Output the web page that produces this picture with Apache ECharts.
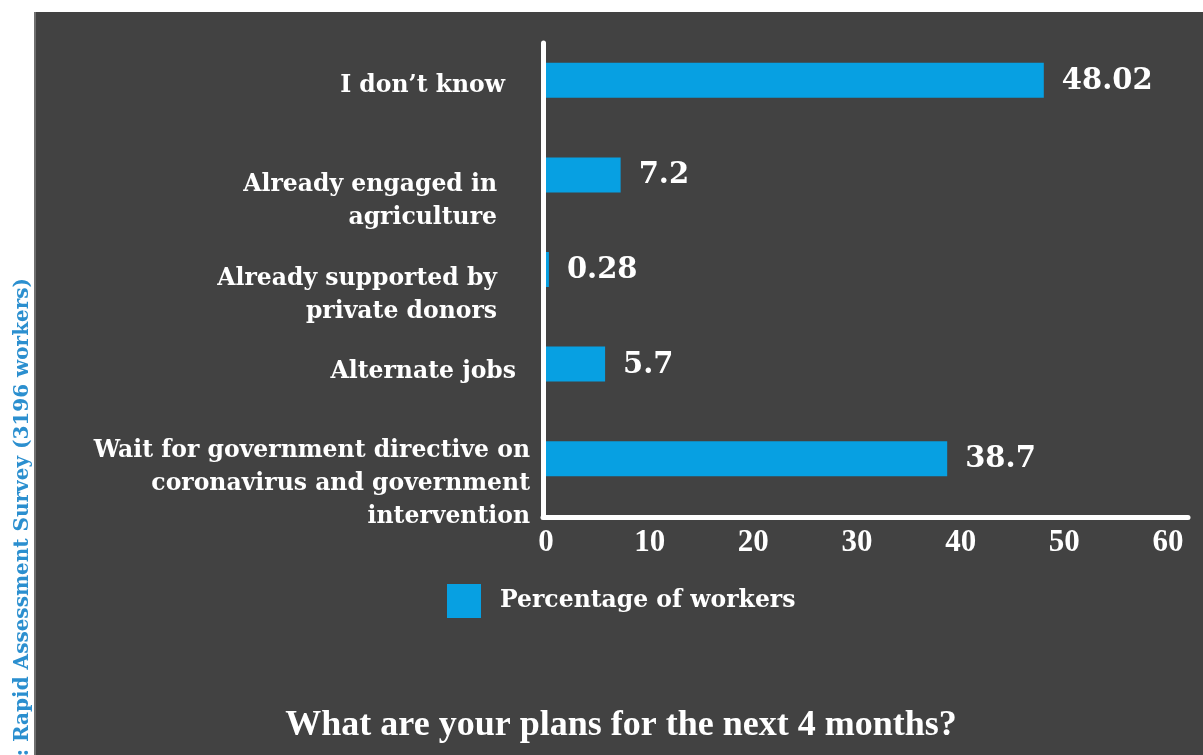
<!DOCTYPE html>
<html>
<head>
<meta charset="utf-8">
<script src="https://cdn.jsdelivr.net/npm/echarts@6/dist/echarts.min.js"></script>
<style>
html,body{margin:0;padding:0;background:#ffffff;}
#chart{width:1203px;height:755px;}
</style>
</head>
<body>
<div id="chart"></div>
<script>
const categories = [
  'I don’t know',
  'Already engaged in\nagriculture',
  'Already supported by\nprivate donors',
  'Alternate jobs',
  'Wait for government directive on\ncoronavirus and government\nintervention'
];
const values = [48.02, 7.2, 0.28, 5.7, 38.7];
const xMin = 0, xMax = 60, xStep = 10;
const seriesName = 'Percentage of workers';
const titleText = 'What are your plans for the next 4 months?';
const sourceText = 'Source: Rapid Assessment Survey (3196 workers)';

const SERIF = '"Liberation Serif", "DejaVu Serif", serif';
const DJV = '"DejaVu Serif", serif';
// label nudges: [spacer height (shifts down by half), shift left px]
const labelNudge = [[12, 25], [52, 33], [52, 33], [16, 14], [50, 0]];

const richStyles = {};
labelNudge.forEach((n, i) => { richStyles['g' + i] = {lineHeight: n[0], fontSize: 1, height: n[0]}; });

const chart = echarts.init(document.getElementById('chart'), null, {renderer: 'canvas'});
const option = {
  backgroundColor: 'transparent',
  animation: false,
  graphic: [
    {type: 'rect', z: -10, silent: true,
     shape: {x: 35, y: 12, width: 1168, height: 743},
     style: {fill: '#424242'}},
    {type: 'rect', z: -9, silent: true,
     shape: {x: 34, y: 12, width: 2, height: 743},
     style: {fill: '#707070'}},
    {type: 'text', x: 23, y: 278, rotation: Math.PI / 2, silent: true,
     style: {text: sourceText, fill: '#2b8fcf', font: 'bold 20px ' + DJV,
             align: 'right', verticalAlign: 'middle'}},
    {type: 'text', x: 621, y: 726, silent: true,
     style: {text: titleText, fill: '#ffffff', font: 'bold 36px ' + SERIF,
             align: 'center', verticalAlign: 'middle'}}
  ],
  legend: {
    left: 442, top: 579,
    itemWidth: 34, itemHeight: 34, icon: 'rect',
    textStyle: {color: '#ffffff', fontFamily: DJV, fontWeight: 'bold', fontSize: 23.5, padding: [0, 0, 0, 14]},
    data: [seriesName]
  },
  grid: [
    {left: 546, top: 33, width: 622, height: 473, containLabel: false},
    {left: 543, top: 43, width: 645, height: 474, containLabel: false}
  ],
  xAxis: [
    {gridIndex: 0, type: 'value', min: xMin, max: xMax, interval: xStep,
     axisLine: {show: false}, axisTick: {show: false}, splitLine: {show: false},
     axisLabel: {color: '#ffffff', fontFamily: SERIF, fontWeight: 'bold', fontSize: 31, margin: 21}},
    {gridIndex: 1, type: 'value', min: 0, max: 1,
     axisLine: {show: true, onZero: false, lineStyle: {color: '#ffffff', width: 5}},
     axisTick: {show: false}, axisLabel: {show: false}, splitLine: {show: false}}
  ],
  yAxis: [
    {gridIndex: 0, type: 'category', inverse: true,
     data: categories.map((c, i) => ({
       value: c,
       textStyle: {padding: [0, labelNudge[i][1], 0, 0]}
     })),
     axisLine: {show: false}, axisTick: {show: false}, splitLine: {show: false},
     axisLabel: {color: '#ffffff', fontFamily: DJV, fontWeight: 'bold', fontSize: 23.5,
                 lineHeight: 33, margin: 16, align: 'right', interval: 0, hideOverlap: false,
                 formatter: (v, i) => '{g' + i + '| }\n' + v,
                 rich: richStyles}},
    {gridIndex: 1, type: 'value', min: 0, max: 1,
     axisLine: {show: true, onZero: false, lineStyle: {color: '#ffffff', width: 5}},
     axisTick: {show: false}, axisLabel: {show: false}, splitLine: {show: false}}
  ],
  series: [{
    name: seriesName, type: 'bar', xAxisIndex: 0, yAxisIndex: 0,
    data: values, barWidth: 35,
    itemStyle: {color: '#07a0e2'},
    label: {show: true, position: 'right', distance: 18, offset: [0, 1], color: '#ffffff',
            fontFamily: DJV, fontWeight: 'bold', fontSize: 29,
            formatter: p => String(p.value)}
  }]
};
chart.setOption(option);
</script>
</body>
</html>
